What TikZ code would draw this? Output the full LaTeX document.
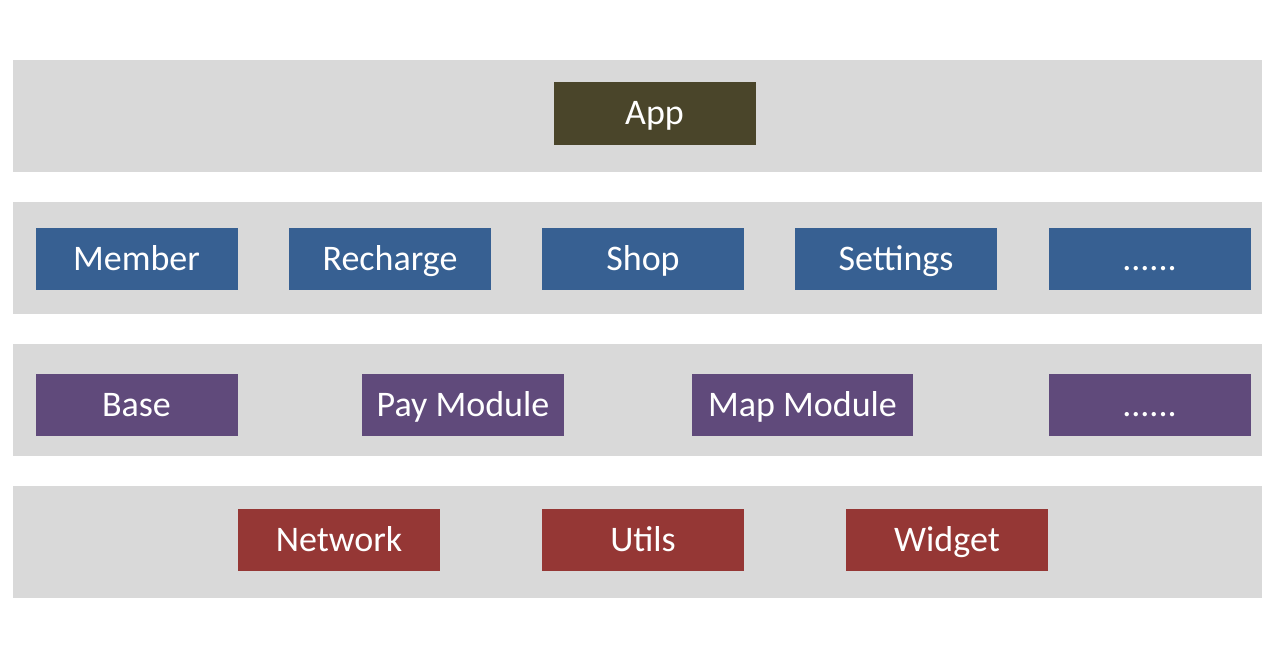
\documentclass[tikz,border=0pt]{standalone}
\usepackage{fontspec}
\setmainfont{Carlito}
\definecolor{bandgray}{HTML}{D9D9D9}
\definecolor{appolive}{HTML}{4A452A}
\definecolor{featblue}{HTML}{376092}
\definecolor{modpurple}{HTML}{604A7B}
\definecolor{basered}{HTML}{953735}
\newcommand\moredots{.\kern0pt.\kern0pt.\kern0pt.\kern0pt.\kern0pt.}
\begin{document}
\begin{tikzpicture}[x=1pt, y=-1pt, line join=round, line cap=round,
	box/.style={minimum width=202pt, minimum height=62pt, inner sep=0pt, text=white,
		text height=30pt, text depth=7pt, font=\fontsize{36}{40}\selectfont},
	appbox/.style={box, fill=appolive},
	featbox/.style={box, fill=featblue},
	modbox/.style={box, fill=modpurple},
	basebox/.style={box, fill=basered}]
	\def\xl{13} \def\xr{1262} % Ränder der Bänder
	\useasboundingbox (0,0) rectangle (1281,660);
	% Bänder
	\fill[bandgray] (\xl,60) rectangle (\xr,172);
	\fill[bandgray] (\xl,202) rectangle (\xr,314);
	\fill[bandgray] (\xl,344) rectangle (\xr,456);
	\fill[bandgray] (\xl,486) rectangle (\xr,598);
	% App
	\node[appbox, minimum height=63pt] (app) at (654.5,113.5) {App};
	% Geschäftsmodule
	\node[featbox] (member) at (136.5,259) {Member};
	\node[featbox] (recharge) at (390,259) {Recharge};
	\node[featbox] (shop) at (643,259) {Shop};
	\node[featbox] (settings) at (896,259) {Settings};
	\node[featbox] (featmore) at (1149.5,259) {\moredots};
	% Funktionsmodule
	\node[modbox] (base) at (136.5,405) {Base};
	\node[modbox] (pay) at (463,405) {Pay Module};
	\node[modbox, minimum width=221pt] (map) at (802.5,405) {Map Module};
	\node[modbox] (modmore) at (1149.5,405) {\moredots};
	% Basis
	\node[basebox] (network) at (339,540) {Network};
	\node[basebox] (utils) at (643,540) {Utils};
	\node[basebox] (widget) at (947,540) {Widget};
\end{tikzpicture}
\end{document}
